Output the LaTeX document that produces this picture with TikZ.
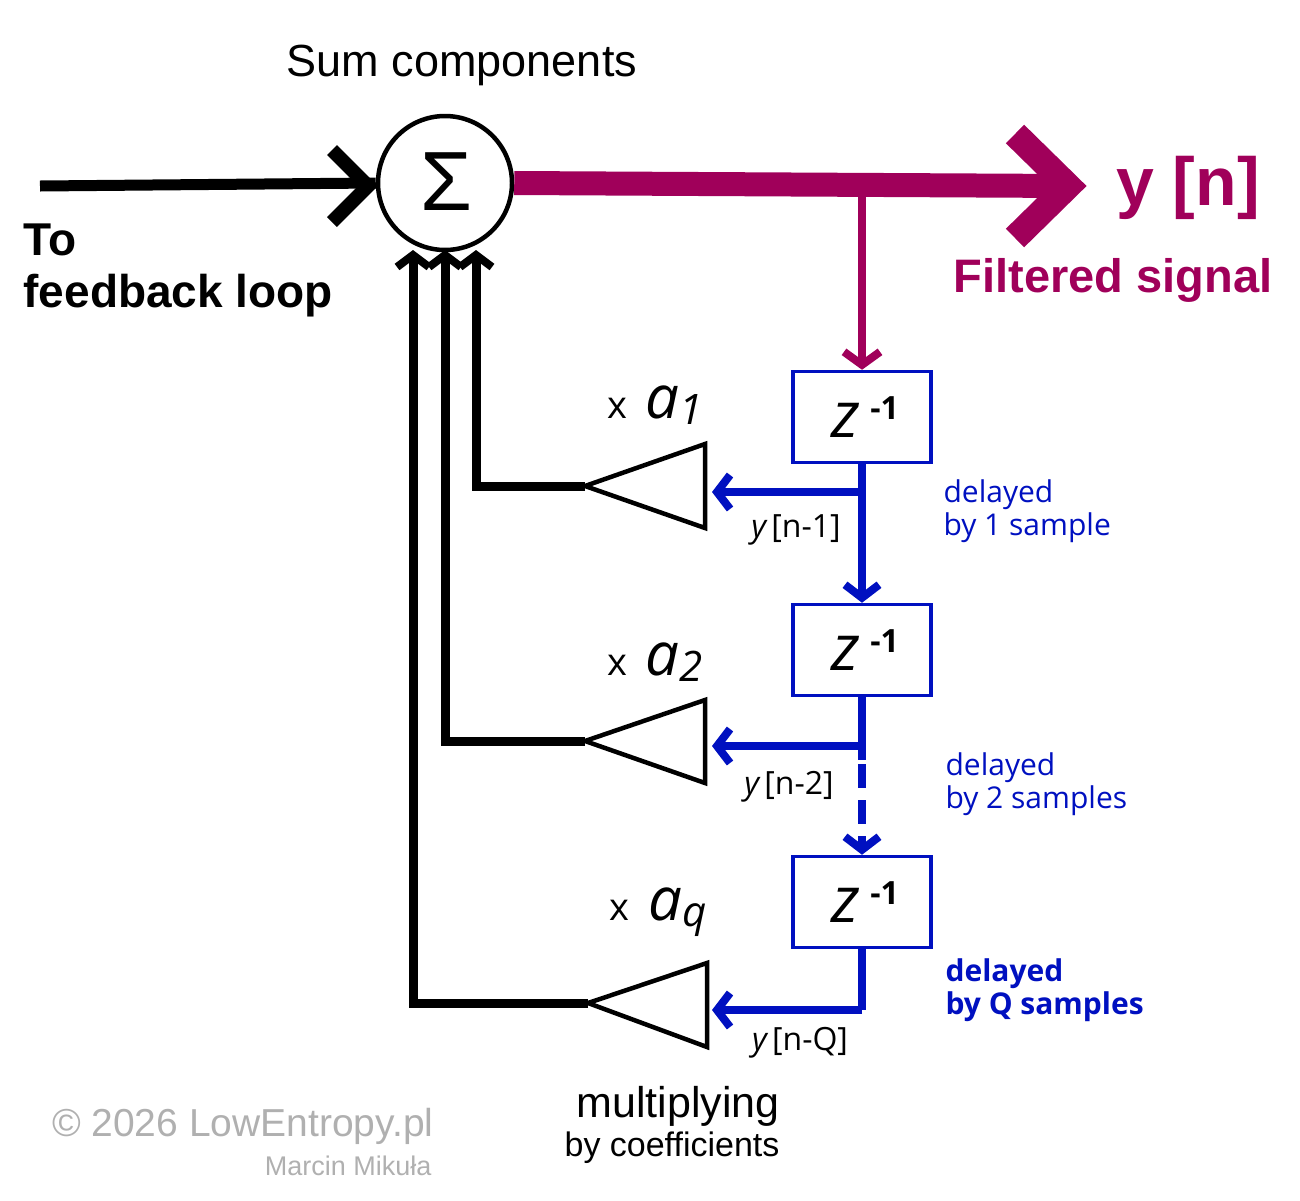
\documentclass[tikz,border=0pt]{standalone}
\usepackage{fontspec}
\setmainfont{Liberation Sans}
\newfontfamily\ubu{Open Sans}
\usetikzlibrary{arrows.meta}
\definecolor{mag}{HTML}{A0005A}
\definecolor{blu}{HTML}{0010C0}
\definecolor{gr}{HTML}{B0B0B0}
\begin{document}
\begin{tikzpicture}[x=1pt,y=-1pt,
  blk/.style={line width=11pt,draw=black},
  bl/.style={line width=8pt,draw=blu},
  barr/.style={-{Straight Barb[length=13pt,width=34pt,line width=8pt]}},
  box/.style={draw=blu,line width=3.5pt,minimum width=138pt,minimum height=91pt,inner sep=0pt},
  amp/.style={line width=4.5pt,line join=miter},
  lab/.style={font=\ubu\fontsize{30}{33}\selectfont,text=blu,align=left,anchor=west},
  yl/.style={font=\ubu\fontsize{32}{34}\selectfont}]
\useasboundingbox (0,0) rectangle (1300,1200);
\node at (462,65) {\fontsize{45}{50}\selectfont Sum components};
\node[circle,draw,line width=4.5pt,minimum size=134pt,inner sep=0pt] (S) at (445,183) {};
\node at (446,182) {\fontsize{84}{86}\selectfont Σ};
% input
\coordinate (in) at (40,186);
\draw[blk] (in) -- (S.west);
\draw[line width=14pt,line join=miter] (332,150) -- (368,186) -- (332,222);
\node[anchor=west,align=left,font=\bfseries\fontsize{46}{52}\selectfont] at (20,270) {To\\feedback loop};
% output
\coordinate (out) at (1070,186);
\draw[mag,line width=24pt] (S.east) -- (out);
\draw[mag,line width=26pt,line join=miter] (1015,134) -- (1068,186) -- (1015,238);
\node[text=mag,font=\bfseries\fontsize{68}{70}\selectfont] at (1188,188) {y [n]};
\node[text=mag,font=\bfseries\fontsize{47}{50}\selectfont] at (1113,280) {Filtered signal};
% boxes
\node[box] (z1) at (862,417) {};
\node[box] (z2) at (862,650) {};
\node[box] (z3) at (862,902) {};
\foreach \b in {z1,z2,z3}
  \node at ([xshift=3pt]\b.center) {\ubu\itshape\fontsize{64}{64}\selectfont z\,\raisebox{18pt}{\upshape\bfseries\fontsize{32}{32}\selectfont -1}};
\coordinate (m) at (862,186);
\draw[mag,line width=8pt,-{Straight Barb[length=13pt,width=36pt,line width=8pt]}] (m) -- (z1.north);
% blue chain
\coordinate (j1) at (862,492);
\coordinate (j2) at (862,746);
\coordinate (j3) at (862,1010);
\draw[bl,barr] (z1.south) -- (z2.north);
\draw[bl] (z2.south) -- (862,760);
\draw[bl,dash pattern=on 24pt off 12pt,barr] (862,764) -- (z3.north);
\draw[bl] (z3.south) -- (j3);
% amplifiers
\coordinate (t1) at (585,486); \coordinate (t2) at (585,741); \coordinate (t3) at (588,1003);
\draw[amp] (t1) -- (705,444) -- (705,528) -- cycle;
\draw[amp] (t2) -- (705,700) -- (705,783) -- cycle;
\draw[amp] (t3) -- (707,963) -- (707,1047) -- cycle;
\draw[bl,barr] (j1) -- (712,492);
\draw[bl,barr] (j2) -- (712,746);
\draw[bl,barr] (j3) -- (712,1010);
% feedback
\tikzset{fb/.style={blk,line width=9pt,line join=miter,-{Straight Barb[length=12pt,width=32pt,line width=8pt]}}}
\draw[fb] (t1) -- (476,486) -- (476,250);
\draw[fb] (t2) -- (445,741) -- (445,250);
\draw[fb] (t3) -- (413,1003) -- (413,250);
% labels
\node at (655,405) {\ubu\fontsize{38}{40}\selectfont x\enspace\itshape\fontsize{60}{60}\selectfont a\raisebox{-6pt}{\fontsize{42}{42}\selectfont 1}};
\node at (655,662) {\ubu\fontsize{38}{40}\selectfont x\enspace\itshape\fontsize{60}{60}\selectfont a\raisebox{-6pt}{\fontsize{42}{42}\selectfont 2}};
\node at (658,912) {\ubu\fontsize{38}{40}\selectfont x\enspace\itshape\fontsize{60}{60}\selectfont a\raisebox{-6pt}{\fontsize{42}{42}\selectfont q}};
\node[yl] at (796,530) {\itshape y\upshape\,[n-1]};
\node[yl] at (789,787) {\itshape y\upshape\,[n-2]};
\node[yl] at (800,1043) {\itshape y\upshape\,[n-Q]};
\node[lab] at (940,511) {delayed\\by 1 sample};
\node[lab] at (942,784) {delayed\\by 2 samples};
\node[lab,font=\ubu\bfseries\fontsize{30}{33}\selectfont] at (942,990) {delayed\\by Q samples};
\node at (678,1106) {\fontsize{43}{46}\selectfont multiplying};
\node at (672,1148) {\fontsize{34}{36}\selectfont by coefficients};
\node[text=gr,anchor=east] at (437,1126) {\fontsize{39}{40}\selectfont © 2026 LowEntropy.pl};
\node[text=gr,anchor=east] at (435,1166) {\fontsize{27}{30}\selectfont Marcin Mikuła};
\end{tikzpicture}
\end{document}
